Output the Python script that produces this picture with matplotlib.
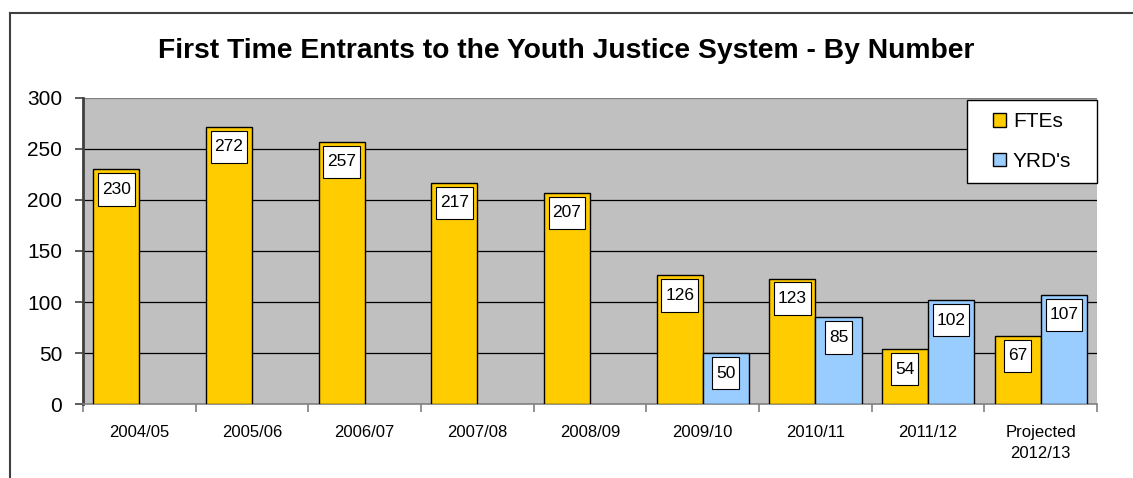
import matplotlib.pyplot as plt
import numpy as np
from matplotlib.lines import Line2D
from matplotlib.path import Path
from matplotlib.patches import Rectangle

plt.rcParams['font.family'] = ['Liberation Sans', 'DejaVu Sans']

years = ['2004/05', '2005/06', '2006/07', '2007/08', '2008/09',
         '2009/10', '2010/11', '2011/12', 'Projected\n2012/13']
ftes = [230, 272, 257, 217, 207, 126, 123, 54, 67]
yrds = [None, None, None, None, None, 50, 85, 102, 107]

gold = '#FFCC00'
blue = '#99CCFF'


def tall_box(x0, y0, width, height, mutation_size):
    # label box: narrow side padding, taller top/bottom padding
    px = 0.22 * mutation_size
    py = 0.50 * mutation_size
    x0, y0 = x0 - px, y0 - py
    x1, y1 = x0 + width + 2 * px, y0 + height + 2 * py
    return Path([(x0, y0), (x1, y0), (x1, y1), (x0, y1), (x0, y0)], closed=True)


fig = plt.figure(figsize=(11.33, 4.78), dpi=100)
ax = fig.add_axes([0.0733, 0.1548, 0.8950, 0.6402])
ax.set_facecolor('#C0C0C0')

x = np.arange(len(years))
w = 0.41

yrd_x = [xi for xi, v in zip(x, yrds) if v is not None]
yrd_v = [v for v in yrds if v is not None]

b1 = ax.bar(x - w / 2, ftes, w, color=gold, edgecolor='black', linewidth=1, zorder=3, label='FTEs')
b2 = ax.bar(np.array(yrd_x) + w / 2, yrd_v, w, color=blue, edgecolor='black', linewidth=1, zorder=3, label="YRD's")

for bars, vals in [(b1, ftes), (b2, yrd_v)]:
    for rect, v in zip(bars, vals):
        ax.annotate(str(v), (rect.get_x() + rect.get_width() / 2, v),
                    xytext=(0, -14.5), textcoords='offset points',
                    ha='center', va='center', fontsize=12.5, zorder=5,
                    bbox=dict(boxstyle=tall_box, fc='white', ec='black', lw=0.8))

ax.set_ylim(0, 300)
ax.set_xlim(-0.5, len(years) - 0.5)
yt = [0, 50, 100, 150, 200, 250, 300]
ax.set_yticks(yt)
ax.hlines(yt[1:-1], -0.5, len(years) - 0.5, colors='black', linewidth=0.9, zorder=1)
ax.hlines([300], -0.5, len(years) - 0.5, colors='#808080', linewidth=0.9, zorder=1)

ax.set_xticks(x)
ax.set_xticklabels(years, fontsize=12, linespacing=1.5)
ax.set_xticks(np.arange(len(years) + 1) - 0.5, minor=True)
ax.tick_params(axis='x', which='major', length=0, pad=15)
ax.tick_params(axis='x', which='minor', length=6, color='#808080', width=1.2)
ax.tick_params(axis='y', labelsize=15, length=6, width=1.2, color='#404040', pad=9)

for s in ['top', 'right']:
    ax.spines[s].set_visible(False)
ax.spines['left'].set_color('#404040')
ax.spines['left'].set_linewidth(2)
ax.spines['bottom'].set_color('#808080')
ax.spines['bottom'].set_linewidth(1.2)

# legend box drawn separately so its padding can be wider than tall
ax.add_patch(Rectangle((0.872, 0.722), 0.128, 0.271, transform=ax.transAxes,
                       fc='white', ec='black', lw=1, zorder=6, clip_on=False))
leg = ax.legend(loc='center', bbox_to_anchor=(0.936, 0.8575), fontsize=15,
                handlelength=0.62, handleheight=0.62, handletextpad=0.34,
                labelspacing=1.0, borderpad=0, frameon=False)
leg.set_zorder(7)

fig.text(0.5, 1 - 51 / 478, 'First Time Entrants to the Youth Justice System - By Number',
         ha='center', va='center', fontsize=20.3, fontweight='bold')

# outer chart frame (top and left edges are visible)
fig.add_artist(Line2D([10 / 1133, 1.0], [1 - 13 / 478, 1 - 13 / 478], color='#404040', lw=1.5))
fig.add_artist(Line2D([10 / 1133, 10 / 1133], [0, 1 - 13 / 478], color='#404040', lw=1.5))

fig.savefig('out.png', dpi=100)
